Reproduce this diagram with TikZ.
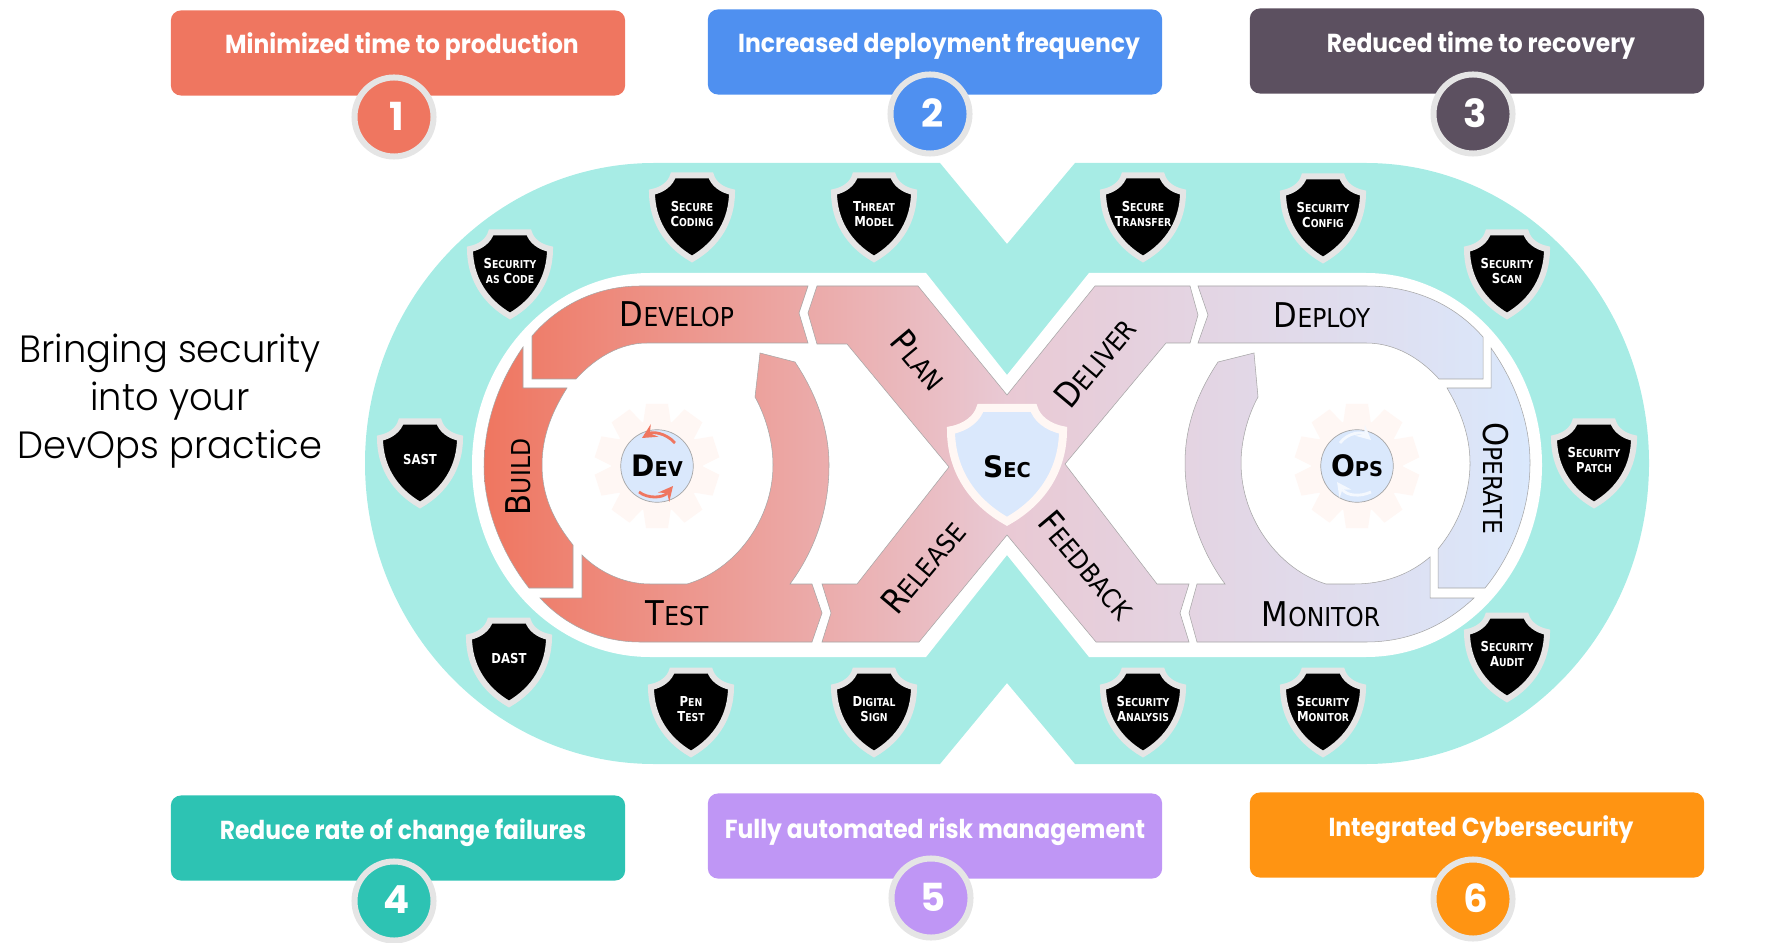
\documentclass[tikz,border=0pt]{standalone}
\usepackage{fontspec}
\newfontfamily\headfont[FakeStretch=.97]{Poppins Light}
\newfontfamily\goalfont[FakeStretch=.9]{Poppins Bold}
\newfontfamily\numfont{Poppins Bold}
\newfontfamily\tagfont[FakeStretch=.9]{DejaVu Sans}
\newfontfamily\hubfont[FakeStretch=.95]{DejaVu Sans Bold}
\newfontfamily\shieldfont[FakeStretch=.85]{DejaVu Sans Bold}
\definecolor{coral}{HTML}{EF7660}
\definecolor{skyblue}{HTML}{4F90F0}
\definecolor{slate}{HTML}{5C5060}
\definecolor{jade}{HTML}{2DC3B3}
\definecolor{lilac}{HTML}{BF96F5}
\definecolor{amber}{HTML}{FF9412}
\definecolor{band}{HTML}{A7ECE5}
\definecolor{ring}{HTML}{E5E5E5}
\definecolor{hubblue}{HTML}{DAE8FC}
\definecolor{blush}{HTML}{FFF7F4}
\definecolor{rosy}{HTML}{E9C9D4}
\newcommand\tagsc[2]{{\fontsize{9.7pt}{9.7pt}\selectfont #1}{\fontsize{7.4pt}{7.4pt}\selectfont #2}}
\newcommand\shsc[2]{{\fontsize{3.9pt}{3.9pt}\selectfont #1}{\fontsize{3.1pt}{3.1pt}\selectfont #2}}
\newcommand\hubsc[2]{{\fontsize{8.4pt}{8.4pt}\selectfont #1}{\fontsize{5.8pt}{5.8pt}\selectfont #2}}
% ribbon pieces, in pixels of the reference
\newcommand\buildpath{(523,347) .. controls (497,385) and (484,425) .. (484,467) .. controls (484,510) and (503,555) .. (529,588) -- (573,588) -- (573,545) .. controls (553,520) and (542,495) .. (542,465) .. controls (542,435) and (553,410) .. (567,388) -- (523,388) -- cycle}
\newcommand\developpath{(532,336) .. controls (560,303) and (600,286) .. (640,286) -- (808,286) -- (799,313) -- (808,343) -- (647,343) .. controls (620,343) and (595,358) .. (576,379) -- (532,379) -- cycle}
\newcommand\testpath{(540,598) -- (582,598) -- (582,555) .. controls (600,573) and (625,584) .. (650,584) -- (687,584) .. controls (735,570) and (773,520) .. (773,465) .. controls (773,440) and (765,415) .. (755,397) -- (760,353) -- (795,362) .. controls (817,395) and (829,430) .. (829,465) .. controls (829,510) and (815,550) .. (790,584) -- (812,584) -- (822,613) -- (812,642) -- (640,642) .. controls (600,642) and (565,625) .. (540,598) -- cycle}
\newcommand\crosspath{(817,286) -- (918,286) -- (1007,395) -- (1095,286) -- (1190,286) -- (1198,315) -- (1190,343) -- (1166,343) -- (1065,464) -- (1157,584) -- (1189,584) -- (1180,613) -- (1189,642) -- (1096,642) -- (1007,535) -- (919,642) -- (822,642) -- (831,613) -- (822,584) -- (857,584) -- (949,467) -- (847,344) -- (817,344) -- (808,313) -- cycle}
\newcommand\deploypath{(1198,286) -- (1366,286) .. controls (1415,286) and (1455,305) .. (1483,337) -- (1483,379) -- (1439,379) .. controls (1420,358) and (1395,343) .. (1366,343) -- (1198,343) -- (1208,315) -- cycle}
\newcommand\operatepath{(1491,348) .. controls (1517,385) and (1530,425) .. (1530,463) .. controls (1530,510) and (1512,555) .. (1485,588) -- (1438,588) -- (1438,549) .. controls (1458,525) and (1470,495) .. (1470,463) .. controls (1470,435) and (1460,410) .. (1447,388) -- (1491,388) -- cycle}
\newcommand\monitorpath{(1197,584) -- (1225,584) .. controls (1200,550) and (1185,505) .. (1185,463) .. controls (1185,425) and (1198,392) .. (1218,362) -- (1254,353) -- (1258,397) .. controls (1248,415) and (1241,440) .. (1241,463) .. controls (1241,520) and (1280,570) .. (1326,584) -- (1354,584) .. controls (1385,584) and (1410,574) .. (1430,557) -- (1430,598) -- (1474,598) .. controls (1445,625) and (1410,642) .. (1366,642) -- (1197,642) -- (1189,613) -- cycle}
\newcommand\shieldpath{(-19,3.5) -- (19,3.5) .. controls (21,11) and (29,18) .. (40,20) .. controls (40,48) and (26,72) .. (0,87) .. controls (-26,72) and (-40,48) .. (-40,20) .. controls (-29,18) and (-21,11) .. (-19,3.5) -- cycle}
\begin{document}
\begin{tikzpicture}[x=0.01cm,y=-0.01cm,
    goalbox/.style={rounded corners=0.1cm, minimum width=4.54cm, minimum height=0.85cm, inner sep=0pt},
    goaltext/.style={text=white, inner sep=0pt, font=\goalfont\fontsize{7.4pt}{7.4pt}\selectfont},
    goalnum/.style={circle, draw=ring, line width=0.06cm, minimum size=0.79cm, inner sep=0pt, text=white, font=\numfont\fontsize{11pt}{11pt}\selectfont},
    tag/.style={inner sep=0pt, text=black, font=\tagfont},
    shieldtag/.style={align=center, inner sep=0pt, text=white, font=\shieldfont\fontsize{3.9pt}{4.27pt}\selectfont},
    hub/.style={circle, fill=hubblue, draw=black!35, line width=0.2pt, minimum size=0.725cm, inner sep=0pt, font=\hubfont},
    hubarrow/.style={thick,->,>=stealth},
    edge/.style={draw=black!35, line width=0.15pt}]
  \useasboundingbox (0,0) rectangle (1776,943);
  % outer band
  \fill[band] (654,163) -- (940,163) -- (1007,244) -- (1075,163) -- (1366,163) .. controls (1522,163) and (1649,298) .. (1649,463) .. controls (1649,629) and (1522,764) .. (1366,764) -- (1075,764) -- (1007,683) -- (940,764) -- (654,764) .. controls (495,764) and (365,629) .. (365,463) .. controls (365,298) and (495,163) .. (654,163) -- cycle;
  \fill[white] (650,273) -- (926,273) -- (1007,375) -- (1089,273) -- (1366,273) .. controls (1463,273) and (1542,359) .. (1542,465) .. controls (1542,571) and (1463,657) .. (1366,657) -- (1089,657) -- (1007,555) -- (926,657) -- (650,657) .. controls (552,657) and (472,571) .. (472,465) .. controls (472,359) and (552,273) .. (650,273) -- cycle;
  % ribbon
  \begin{scope}
    \clip \buildpath \developpath \testpath \crosspath \deploypath \operatepath \monitorpath;
    \shade[left color=coral, right color=hubblue, middle color=rosy] (484,280) rectangle (1530,650);
  \end{scope}
  \path[edge] \buildpath \developpath \testpath \crosspath \deploypath \operatepath \monitorpath;
  % gears
  \foreach \cx in {657,1357} {
    \fill[blush] (\cx,466) circle (46);
    \foreach \a in {0,36,...,324}
      \fill[blush,rotate around={\a:(\cx,466)}] ({\cx-14},424) -- ({\cx-11},404) -- ({\cx+11},404) -- ({\cx+14},424) -- cycle;
  }
  \node[hub] (dev) at (657,466) {\hubsc{D}{EV}};
  \node[hub] (ops) at (1357,466) {\hubsc{O}{PS}};
  \draw[hubarrow,coral] (675,443) .. controls (665,432) and (652,432) .. (642,438);
  \draw[hubarrow,coral] (639,492) .. controls (648,499) and (663,498) .. (673,486);
  \draw[hubarrow,white!70!hubblue] (1340,443) .. controls (1348,432) and (1362,432) .. (1371,440);
  \draw[hubarrow,white!70!hubblue] (1371,492) .. controls (1360,497) and (1347,496) .. (1337,482);
  % sec shield
  \begin{scope}[shift={(1007,403)},xscale=1.4,yscale=1.36]
    \filldraw[fill=hubblue,draw=blush,line width=0.08cm] \shieldpath;
  \end{scope}
  \node[inner sep=0pt,font=\hubfont] (sec) at (1007,467) {\hubsc{S}{EC}};
  % ribbon labels
  \node[tag] (build) at (518,477) [rotate=90] {\tagsc{B}{UILD}};
  \node[tag] (develop) at (677,314) {\tagsc{D}{EVELOP}};
  \node[tag] (test) at (677,613) {\tagsc{T}{EST}};
  \node[tag] (plan) at (919,360) [rotate=-50] {\tagsc{P}{LAN}};
  \node[tag] (release) at (923,567) [rotate=50] {\tagsc{R}{ELEASE}};
  \node[tag] (deliver) at (1095,362) [rotate=50] {\tagsc{D}{ELIVER}};
  \node[tag] (feedback) at (1087,565) [rotate=-50] {\tagsc{F}{EEDBACK}};
  \node[tag] (deploy) at (1322,315) {\tagsc{D}{EPLOY}};
  \node[tag] (operate) at (1496,478) [rotate=-90] {\tagsc{O}{PERATE}};
  \node[tag] (monitor) at (1321,614) {\tagsc{M}{ONITOR}};
  % black shields
  \foreach \nm/\sx/\sy/\txt in {
      seccoding/692/172/{\shsc{S}{ECURE}\\\shsc{C}{ODING}},
      threat/874/172/{\shsc{T}{HREAT}\\\shsc{M}{ODEL}},
      ascode/510/229/{\shsc{S}{ECURITY}\\\shsc{}{AS} \shsc{C}{ODE}},
      sast/420/418/{\shsc{SAST}{}},
      dast/509/617/{\shsc{DAST}{}},
      pentest/691/667/{\shsc{P}{EN}\\\shsc{T}{EST}},
      digsign/874/667/{\shsc{D}{IGITAL}\\\shsc{S}{IGN}},
      transfer/1143/172/{\shsc{S}{ECURE}\\\shsc{T}{RANSFER}},
      config/1323/173/{\shsc{S}{ECURITY}\\\shsc{C}{ONFIG}},
      scan/1507/229/{\shsc{S}{ECURITY}\\\shsc{S}{CAN}},
      patch/1594/418/{\shsc{S}{ECURITY}\\\shsc{P}{ATCH}},
      audit/1507/612/{\shsc{S}{ECURITY}\\\shsc{A}{UDIT}},
      analysis/1143/667/{\shsc{S}{ECURITY}\\\shsc{A}{NALYSIS}},
      secmon/1323/667/{\shsc{S}{ECURITY}\\\shsc{M}{ONITOR}}} {
    \begin{scope}[shift={(\sx,\sy)}]
      \filldraw[fill=black,draw=ring,line width=0.06cm] \shieldpath;
      \node[shieldtag] (\nm) at (0,42) {\txt};
    \end{scope}
  }
  % goals
  \foreach \nm/\bx/\by/\tx/\ty/\nx/\ny/\col/\txt/\num in {
      one/398/53/402/47/394/117/coral/Minimized time to production/1,
      two/935/52/939/46/930/114/skyblue/Increased deployment frequency/2,
      three/1477/51/1481/46/1473/114/slate/Reduced time to recovery/3,
      four/398/838/403/833/394/901/jade/Reduce rate of change failures/4,
      five/935/836/935/832/931/898/lilac/Fully automated risk management/5,
      six/1477/835/1481/830/1473/899/amber/Integrated Cybersecurity/6} {
    \node[goalbox,fill=\col] (box\nm) at (\bx,\by) {};
    \node[goaltext] (text\nm) at (\tx,\ty) {\txt};
    \node[goalnum,fill=\col] (num\nm) at (\nx,\ny) {\hspace{0.05cm}\raisebox{0.02cm}{\num}};
  }
  \node[align=center,inner sep=0pt,font=\headfont\fontsize{10.8pt}{13.7pt}\selectfont] (title) at (170,401) {Bringing security\\into your\\DevOps practice};
\end{tikzpicture}
\end{document}
